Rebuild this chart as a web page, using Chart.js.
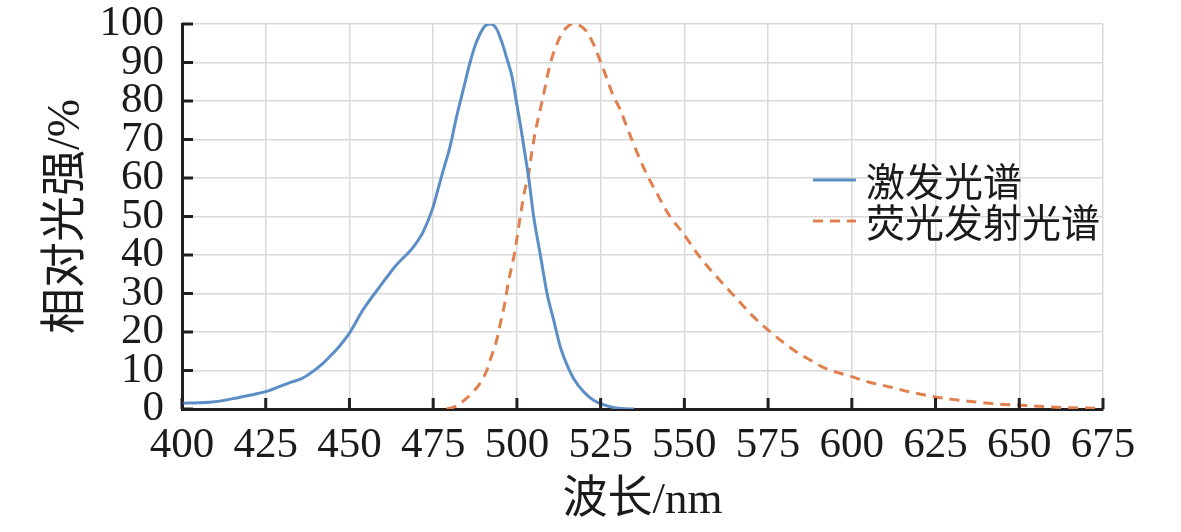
<!DOCTYPE html>
<html>
<head>
<meta charset="utf-8">
<script src="https://cdn.jsdelivr.net/npm/chart.js@4.4.1/dist/chart.umd.min.js"></script>
<style>
  html, body { margin: 0; padding: 0; background: #ffffff; }
  #wrap { width: 1181px; height: 532px; }
</style>
</head>
<body>
<div id="wrap"><canvas id="c" width="1181" height="532"></canvas></div>
<script>
// ---- data ----
const seriesNames = ['激发光谱', '荧光发射光谱'];
const xTitle = '波长/nm';
const yTitle = '相对光强/%';
const xTickValues = [400, 425, 450, 475, 500, 525, 550, 575, 600, 625, 650, 675];
const yTickValues = [0, 10, 20, 30, 40, 50, 60, 70, 80, 90, 100];

const exWavelength = [400, 405, 409, 413, 417, 421, 425, 429, 432, 436, 439, 442, 444, 447, 450, 454, 459, 464, 469, 472, 475, 476.4, 478, 480, 482, 484, 486, 488, 490, 491, 492, 493, 494, 495, 496, 497, 498.5, 500, 501, 502, 503.6, 505, 507, 509, 511, 513, 515, 517, 520, 523, 527, 531, 535];
const exIntensity  = [1.5, 1.6, 1.8, 2.3, 3, 3.7, 4.5, 5.8, 6.8, 8, 9.7, 11.8, 13.5, 16.3, 19.7, 25.7, 31.7, 37.4, 42, 46, 52.5, 57, 62, 68, 76, 83, 90, 95.5, 99, 99.8, 100, 99.7, 98.6, 96.5, 94, 91, 86.5, 79, 74, 68.5, 59.5, 50, 40, 30, 23, 16, 11.4, 7.8, 4.4, 2.2, 0.8, 0.1, 0];

const emWavelength = [479, 482, 485, 487, 489, 491, 492, 494, 495, 496.5, 497.4, 499.4, 501, 502.4, 503.5, 504.5, 505.5, 506.5, 507.8, 509.9, 512.8, 514.5, 516.7, 519, 520.9, 523, 524.8, 526.8, 528.7, 530.7, 534.3, 538.2, 541.8, 545.7, 549.6, 554.6, 559.7, 566, 570, 575, 580, 584, 588, 592, 600, 605, 611, 618, 624.5, 630, 637, 643, 650, 658, 666, 675];
const emIntensity  = [0, 0.8, 2.8, 4.5, 6.7, 10, 12.7, 18, 22, 28, 32.7, 41, 50, 57, 61, 67, 72, 76, 81, 89.5, 96.5, 98.8, 100, 99.5, 98, 94.5, 90.6, 86, 81.5, 78, 70, 62, 56, 50, 45.7, 39.5, 34.3, 28.3, 24.5, 20.5, 17, 14.5, 12.5, 10.6, 8.4, 7, 5.8, 4.3, 3.2, 2.5, 1.8, 1.3, 1, 0.6, 0.3, 0.2];

// ---- styling ----
const FONT = "'Liberation Serif', 'Noto Sans CJK SC', serif";
const CJK = "'Noto Sans CJK SC', 'Liberation Serif', serif";
const INK = '#1c1a1a';
const AXIS = '#231f20';
const GRID = '#d9d9d9';
const colors = ['#5b8ec6', '#e0804f'];

const inwardTicks = {
  id: 'inwardTicks',
  afterDatasetsDraw(chart) {
    const { ctx, chartArea: a, scales: { x, y } } = chart;
    ctx.save();
    ctx.strokeStyle = AXIS;
    ctx.lineWidth = 3;
    x.ticks.forEach(t => {
      const px = x.getPixelForValue(t.value);
      ctx.beginPath(); ctx.moveTo(px, a.bottom); ctx.lineTo(px, a.bottom - 11); ctx.stroke();
    });
    y.ticks.forEach(t => {
      const py = y.getPixelForValue(t.value);
      ctx.beginPath(); ctx.moveTo(a.left, py); ctx.lineTo(a.left + 11, py); ctx.stroke();
    });
    ctx.restore();
  }
};

const customLegend = {
  id: 'customLegend',
  afterDraw(chart) {
    const { ctx } = chart;
    ctx.save();
    ctx.font = '39px ' + CJK;
    ctx.textBaseline = 'middle';
    ctx.textAlign = 'left';
    chart.data.datasets.forEach((ds, i) => {
      const yy = 180 + i * 41;
      ctx.strokeStyle = ds.borderColor;
      ctx.lineWidth = 3;
      ctx.setLineDash(ds.borderDash || []);
      ctx.beginPath(); ctx.moveTo(813, yy); ctx.lineTo(856, yy); ctx.stroke();
      ctx.setLineDash([]);
      ctx.fillStyle = INK;
      ctx.fillText(ds.label, 866, yy + 1);
    });
    ctx.restore();
  }
};

const toPoints = (xs, ys) => xs.map((v, i) => ({ x: v, y: ys[i] }));

new Chart(document.getElementById('c'), {
  type: 'line',
  data: {
    datasets: [
      {
        label: seriesNames[0],
        data: toPoints(exWavelength, exIntensity),
        borderColor: colors[0],
        borderWidth: 3,
        pointRadius: 0,
        fill: false,
        cubicInterpolationMode: 'monotone'
      },
      {
        label: seriesNames[1],
        data: toPoints(emWavelength, emIntensity),
        borderColor: colors[1],
        borderWidth: 3,
        borderDash: [10, 7],
        pointRadius: 0,
        fill: false,
        cubicInterpolationMode: 'monotone'
      }
    ]
  },
  options: {
    responsive: false,
    animation: false,
    devicePixelRatio: 1,
    layout: { padding: { top: 24, right: 78, left: 0, bottom: 0 } },
    plugins: { legend: { display: false }, tooltip: { enabled: false } },
    scales: {
      x: {
        type: 'linear',
        min: 400, max: 675,
        afterBuildTicks: s => { s.ticks = xTickValues.map(v => ({ value: v })); },
        afterFit: s => { s.height = 123; s.paddingLeft = 0; s.paddingRight = 0; },
        ticks: { font: { family: FONT, size: 43 }, color: INK, padding: 11, maxRotation: 0, autoSkip: false },
        grid: { color: GRID, lineWidth: 1.5, drawTicks: false },
        border: { color: AXIS, width: 3 },
        title: { display: true, text: xTitle, color: INK, font: { family: FONT, size: 45 }, padding: { top: 0, bottom: 4 } }
      },
      y: {
        min: 0, max: 100,
        afterBuildTicks: s => { s.ticks = yTickValues.map(v => ({ value: v })); },
        afterFit: s => { s.width = 182; s.paddingTop = 0; s.paddingBottom = 0; },
        ticks: { font: { family: FONT, size: 43 }, color: INK, padding: 18, autoSkip: false },
        grid: { color: GRID, lineWidth: 1.5, drawTicks: false },
        border: { color: AXIS, width: 3 },
        title: { display: true, text: yTitle, color: INK, font: { family: FONT, size: 46 }, padding: { top: 39, bottom: 0 } }
      }
    }
  },
  plugins: [inwardTicks, customLegend]
});
</script>
</body>
</html>
